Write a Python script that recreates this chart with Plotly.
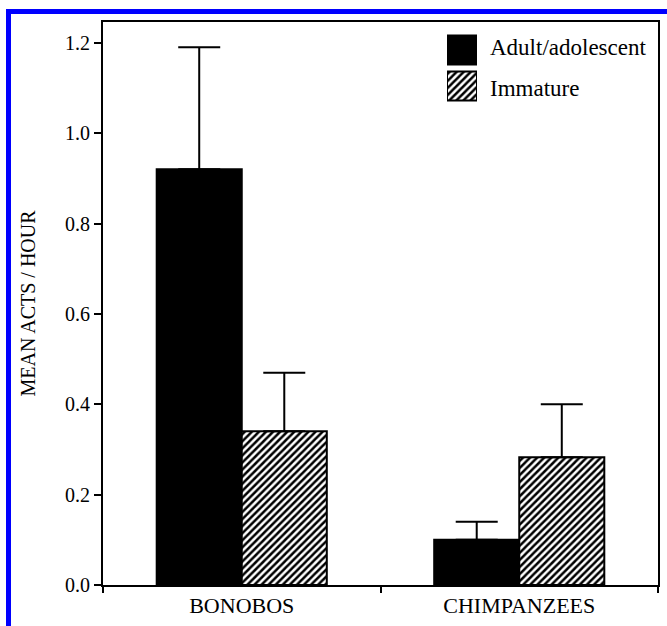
import plotly.graph_objects as go

# ---- data ----
groups = ["BONOBOS", "CHIMPANZEES"]
series_names = ["Adult/adolescent", "Immature"]
adult_mean = [0.92, 0.10]
adult_err = [0.27, 0.04]
immature_mean = [0.34, 0.283]
immature_err = [0.13, 0.117]
y_ticks = [0.0, 0.2, 0.4, 0.6, 0.8, 1.0, 1.2]
y_title = "MEAN ACTS / HOUR"

FONT = "Liberation Serif"
HATCH = dict(shape="/", fgcolor="black", bgcolor="white", size=5, solidity=0.5)

fig = go.Figure()

fig.add_trace(go.Bar(
    x=groups, y=adult_mean, name=series_names[0],
    marker=dict(color="black", line=dict(color="black", width=2)),
    error_y=dict(type="data", array=adult_err, arrayminus=[0] * len(adult_err),
                 symmetric=False, color="black", thickness=2, width=21),
    showlegend=False,
))
fig.add_trace(go.Bar(
    x=groups, y=immature_mean, name=series_names[1],
    marker=dict(color="white", pattern=HATCH, line=dict(color="black", width=2)),
    error_y=dict(type="data", array=immature_err, arrayminus=[0] * len(immature_err),
                 symmetric=False, color="black", thickness=2, width=21),
    showlegend=False,
))

# legend swatches drawn as a tiny inset bar chart (large square keys as in the reference)
fig.add_trace(go.Bar(
    y=[series_names[0]], x=[1], orientation="h", offsetgroup="key",
    xaxis="x2", yaxis="y2", showlegend=False, hoverinfo="skip", width=0.8,
    marker=dict(color="black", line=dict(color="black", width=2)),
))
fig.add_trace(go.Bar(
    y=[series_names[1]], x=[1], orientation="h", offsetgroup="key",
    xaxis="x2", yaxis="y2", showlegend=False, hoverinfo="skip", width=0.8,
    marker=dict(color="white", pattern=HATCH, line=dict(color="black", width=2)),
))

# geometry (pixels in a 667x626 page)
L, R, T, B = 103, 9, 22, 41
W, H = 667, 626
pw, ph = W - L - R, H - T - B


def px(x):
    return (x - L) / pw


def py(y):
    return (H - B - y) / ph


fig.update_layout(
    template="none",
    width=W, height=H,
    margin=dict(l=L, r=R, t=T, b=B),
    paper_bgcolor="white", plot_bgcolor="white",
    font=dict(family=FONT, color="black", size=20),
    barmode="group", bargap=0.387, bargroupgap=0,
    xaxis=dict(
        range=[-0.5, 1.5], showgrid=False, zeroline=False,
        showline=True, linecolor="black", linewidth=2, mirror=True,
        ticks="outside", tickson="boundaries", ticklen=6, tickwidth=2, tickcolor="black",
        tickfont=dict(size=22, family=FONT, color="black"), fixedrange=True,
    ),
    yaxis=dict(
        range=[0, 1.246], tickvals=y_ticks, tickformat=".1f",
        showgrid=False, zeroline=False,
        showline=True, linecolor="black", linewidth=2, mirror=True,
        ticks="outside", ticklen=7, tickwidth=2, tickcolor="black",
        tickfont=dict(size=20, family=FONT, color="black"),
        title=dict(text=y_title, font=dict(size=20, family=FONT, color="black"), standoff=24),
    ),
    xaxis2=dict(domain=[px(447), px(477)], range=[0, 1], visible=False, anchor="y2"),
    yaxis2=dict(domain=[py(104), py(32)], visible=False, anchor="x2",
                autorange="reversed", type="category"),
)

fig.add_annotation(x=px(488), y=py(47), xref="paper", yref="paper",
                   text=series_names[0], showarrow=False, xanchor="left", yanchor="middle",
                   font=dict(size=23, family=FONT, color="black"))
fig.add_annotation(x=px(488), y=py(89), xref="paper", yref="paper",
                   text=series_names[1], showarrow=False, xanchor="left", yanchor="middle",
                   font=dict(size=23, family=FONT, color="black"))

# blue frame of the scanned figure (top and left edges)
fig.add_shape(type="line", xref="paper", yref="paper",
              x0=px(6), x1=px(667), y0=py(11.5), y1=py(11.5),
              line=dict(color="#0000FF", width=5))
fig.add_shape(type="line", xref="paper", yref="paper",
              x0=px(8.5), x1=px(8.5), y0=py(9), y1=py(626),
              line=dict(color="#0000FF", width=5))

# page tweaks: no body margin, and force a style/font refresh of the SVG text
post = """
document.body.style.margin='0';document.body.style.overflow='hidden';
var t=document.querySelector('.ytick text');
var info=t?('style='+t.getAttribute('style')):'none';
var s=document.createElement('style');
s.textContent="svg text{font-family:'Liberation Serif',serif !important;}";
document.head.appendChild(s);
var d=document.createElement('div');
d.textContent=info+' || '+(t?getComputedStyle(t).fontFamily:'');
d.setAttribute('aria-hidden','true');
d.style.cssText='position:absolute;left:120px;top:260px;width:280px;font:11px monospace;color:transparent;pointer-events:none;';
document.body.appendChild(d);
"""
fig.write_html("out.html", config={"displayModeBar": False}, post_script=post)
